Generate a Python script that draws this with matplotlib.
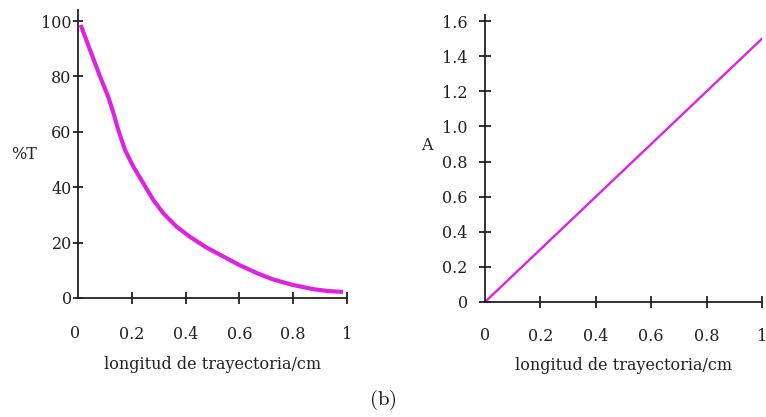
import matplotlib
matplotlib.use("Agg")
import matplotlib.pyplot as plt

# Data
length_T = [0.010, 0.045, 0.082, 0.113, 0.131, 0.150, 0.175, 0.206, 0.243,
            0.280, 0.317, 0.367, 0.416, 0.478, 0.540, 0.602, 0.665, 0.725,
            0.799, 0.874, 0.930, 0.985]
percent_T = [98.6, 89.5, 80.0, 72.5, 67.0, 60.6, 53.4, 47.4, 41.4,
             35.4, 30.6, 25.7, 22.1, 18.2, 15.0, 11.8, 9.0, 6.7,
             4.7, 3.2, 2.5, 2.2]
length_A = [0.0, 1.0]
absorbance = [0.0, 1.5]

xticks = [0.2, 0.4, 0.6, 0.8, 1.0]
xticklabels = ["0.2", "0.4", "0.6", "0.8", "1"]
yticks_T = [0, 20, 40, 60, 80, 100]
yticks_A = [0, 0.2, 0.4, 0.6, 0.8, 1.0, 1.2, 1.4, 1.6]
yticklabels_A = ["0", "0.2", "0.4", "0.6", "0.8", "1.0", "1.2", "1.4", "1.6"]
xlabel = "longitud de trayectoria/cm"

plt.rcParams["font.family"] = ["DejaVu Serif"]
plt.rcParams["mathtext.fontset"] = "cm"

W, H = 766, 417
fig = plt.figure(figsize=(W / 100, H / 100), dpi=100)

def frac(x0, y0, x1, y1):
    return [x0 / W, 1 - y1 / H, (x1 - x0) / W, (y1 - y0) / H]

axL = fig.add_axes(frac(78, 10, 347, 298))
axR = fig.add_axes(frac(485, 15, 762, 302))

magenta = "#dd22e2"
ink = "#222222"
fs = 11.5

for ax in (axL, axR):
    for s in ("top", "right"):
        ax.spines[s].set_visible(False)
    for s in ("left", "bottom"):
        ax.spines[s].set_color(ink)
        ax.spines[s].set_linewidth(1.3)
    ax.tick_params(axis="both", direction="inout", length=9, width=1.3,
                   color=ink, labelcolor=ink, labelsize=fs)
    ax.set_xlim(0, 1)
    ax.set_xticks(xticks)
    ax.set_xticklabels(xticklabels)
    ax.set_xlabel(xlabel, fontsize=fs, color=ink, labelpad=9)

# Left panel
axL.plot(length_T, percent_T, color=magenta, lw=3, solid_capstyle="butt",
         solid_joinstyle="round")
axL.set_ylim(0, 104)
axL.set_yticks(yticks_T)
axL.set_yticklabels([str(v) for v in yticks_T])
axL.tick_params(axis="x", pad=16)
axL.tick_params(axis="y", length=7, pad=1)
axL.text(-0.01, -0.125, "0", transform=axL.transAxes, ha="center", va="center",
         fontsize=fs, color=ink)
axL.set_ylabel("%T", rotation=0, fontsize=fs, color=ink, va="center", ha="center")
axL.yaxis.set_label_coords(-0.2, 0.497)

# Right panel
axR.plot(length_A, absorbance, color=magenta, lw=1.7)
axR.set_ylim(0, 1.635)
axR.set_yticks(yticks_A)
axR.set_yticklabels(yticklabels_A)
axR.tick_params(axis="x", pad=14)
axR.tick_params(axis="y", pad=8)
axR.text(0.0, -0.118, "0", transform=axR.transAxes, ha="center", va="center",
         fontsize=fs, color=ink)
axR.set_ylabel("A", rotation=0, fontsize=fs, color=ink, va="center", ha="center")
axR.yaxis.set_label_coords(-0.209, 0.547)

fig.text(383 / W, 1 - 400 / H, r"$\mathrm{(b)}$", ha="center", va="center",
         fontsize=15, color="#111111")

fig.savefig("out.png", dpi=100)
